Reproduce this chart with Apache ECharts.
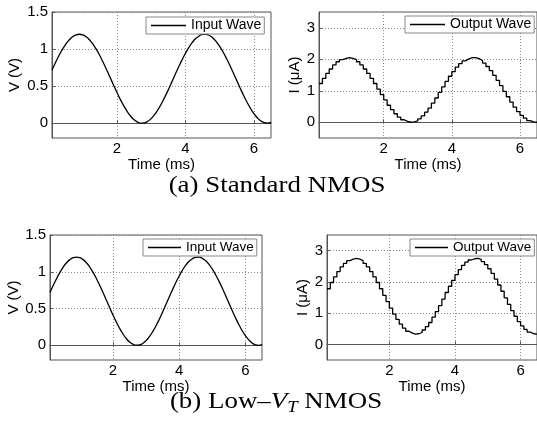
<!DOCTYPE html>
<html><head><meta charset="utf-8">
<script src="https://cdn.jsdelivr.net/npm/echarts@6/dist/echarts.min.js"></script>
<style>html,body{margin:0;padding:0;background:#fff}#c{width:537px;height:428px}</style>
</head><body><div id="c"></div>
<script>
const time = [0.1,0.2,0.3,0.4,0.5,0.6,0.7,0.8,0.9,1.0,1.1,1.2,1.3,1.4,1.5,1.6,1.7,1.8,1.9,2.0,2.1,2.2,2.3,2.4,2.5,2.6,2.7,2.8,2.9,3.0,3.1,3.2,3.3,3.4,3.5,3.6,3.7,3.8,3.9,4.0,4.1,4.2,4.3,4.4,4.5,4.6,4.7,4.8,4.9,5.0,5.1,5.2,5.3,5.4,5.5,5.6,5.7,5.8,5.9,6.0,6.1,6.2,6.3,6.4,6.5];
const inputWave = [0.718,0.816,0.909,0.992,1.064,1.122,1.165,1.191,1.2,1.191,1.165,1.122,1.064,0.992,0.909,0.816,0.718,0.615,0.513,0.413,0.318,0.232,0.157,0.093,0.046,0.015,0.001,0.004,0.025,0.063,0.117,0.185,0.265,0.355,0.452,0.554,0.657,0.758,0.854,0.943,1.023,1.090,1.142,1.177,1.197,1.199,1.183,1.150,1.101,1.037,0.960,0.873,0.778,0.677,0.574,0.472,0.374,0.283,0.200,0.130,0.073,0.031,0.007,0.000,0.011];
const outputStd = [1.23,1.39,1.55,1.69,1.82,1.92,1.99,2.03,2.05,2.03,1.99,1.92,1.82,1.69,1.55,1.39,1.23,1.05,0.88,0.71,0.54,0.40,0.27,0.16,0.08,0.03,0.00,0.01,0.04,0.11,0.20,0.32,0.45,0.61,0.77,0.95,1.12,1.30,1.46,1.61,1.75,1.86,1.95,2.01,2.05,2.05,2.02,1.96,1.88,1.77,1.64,1.49,1.33,1.16,0.98,0.81,0.64,0.48,0.34,0.22,0.13,0.05,0.01,0.00,0.02];
const outputLowVt = [1.78,1.98,2.16,2.33,2.48,2.59,2.68,2.73,2.75,2.73,2.68,2.59,2.48,2.33,2.16,1.98,1.78,1.57,1.37,1.16,0.97,0.80,0.65,0.52,0.42,0.36,0.33,0.34,0.38,0.46,0.57,0.70,0.87,1.05,1.24,1.45,1.66,1.86,2.05,2.23,2.39,2.53,2.63,2.70,2.74,2.75,2.72,2.65,2.55,2.42,2.27,2.09,1.90,1.70,1.49,1.28,1.08,0.90,0.73,0.59,0.48,0.39,0.34,0.33,0.35];
const xTicks = [2,4,6];
const vTicks = [0,0.5,1,1.5];
const iTicks = [0,1,2,3];
const captionA = '(a) Standard NMOS';

const chart = echarts.init(document.getElementById('c'), null, {renderer:'canvas'});
const sans = 'Liberation Sans, Arial, sans-serif';
const pair = arr => time.map((t,i)=>[t, arr[i]]);
const grids = [
  {left:52, top:12, width:219, height:126},
  {left:319, top:12, width:220, height:126},
  {left:50, top:235, width:212, height:125},
  {left:327, top:235, width:211, height:125}
];
const nameGaps = [16, 16, 12, 12];
const gridSpec = grids.map(g => Object.assign({show:true, borderColor:'#555', borderWidth:1, backgroundColor:'#fff'}, g));
const splitStyle = {show:true, lineStyle:{color:'#888', type:[1,2], width:1}};
const xAxes = grids.map((g,i)=>({
  type:'value', gridIndex:i, min:0.1, max:6.5,
  name:'Time (ms)', nameLocation:'middle', nameGap:nameGaps[i],
  nameTextStyle:{fontFamily:sans, fontSize:15, color:'#000'},
  axisLine:{show:true, lineStyle:{color:'#555'}},
  axisTick:{show:true, inside:true, length:3, customValues:xTicks, lineStyle:{color:'#555'}},
  axisLabel:{customValues:xTicks, fontFamily:sans, fontSize:15, color:'#000', margin:3},
  splitLine:splitStyle
}));
const yDefs = [
  {min:-0.2, max:1.5, ticks:vTicks, name:'V (V)', gap:30},
  {min:-0.5, max:3.5, ticks:iTicks, name:'I (μA)', gap:15},
  {min:-0.2, max:1.5, ticks:vTicks, name:'V (V)', gap:28},
  {min:-0.5, max:3.5, ticks:iTicks, name:'I (μA)', gap:14}
];
const yAxes = yDefs.map((d,i)=>({
  type:'value', gridIndex:i, min:d.min, max:d.max,
  name:d.name, nameLocation:'middle', nameGap:d.gap,
  nameTextStyle:{fontFamily:sans, fontSize:15, color:'#000'},
  axisLine:{show:true, lineStyle:{color:'#555'}},
  axisTick:{show:true, inside:true, length:3, customValues:d.ticks, lineStyle:{color:'#555'}},
  axisLabel:{customValues:d.ticks, fontFamily:sans, fontSize:15, color:'#000', margin:4},
  splitLine:splitStyle
}));
const lineStyle = {color:'#000', width:1.3};
const series = [
  {name:'Input Wave', type:'line', xAxisIndex:0, yAxisIndex:0, data:pair(inputWave), smooth:true, symbol:'none', lineStyle, itemStyle:{color:'#000'}},
  {name:'Output Wave', type:'line', xAxisIndex:1, yAxisIndex:1, data:pair(outputStd), step:'end', symbol:'none', lineStyle, itemStyle:{color:'#000'}},
  {name:'Input Wave', type:'line', xAxisIndex:2, yAxisIndex:2, data:pair(inputWave), smooth:true, symbol:'none', lineStyle, itemStyle:{color:'#000'}},
  {name:'Output Wave', type:'line', xAxisIndex:3, yAxisIndex:3, data:pair(outputLowVt), step:'end', symbol:'none', lineStyle, itemStyle:{color:'#000'}}
];
const legendBase = (fs, iw) => ({icon:'rect', itemWidth:iw, itemHeight:1.3, itemGap:0, padding:[1,3,1,5], borderColor:'#888', borderWidth:1, backgroundColor:'#fff', itemStyle:{color:'#000'}, textStyle:{fontFamily:sans, fontSize:fs, color:'#000', lineHeight:15}, selectedMode:false});
const legends = [
  Object.assign({left:146, top:17, data:['Input Wave']}, legendBase(14, 35)),
  Object.assign({left:405, top:16, data:['Output Wave']}, legendBase(14, 35)),
  Object.assign({left:143, top:239, data:['Input Wave']}, legendBase(13.5, 33)),
  Object.assign({left:410, top:239, data:['Output Wave']}, legendBase(13.5, 33))
];
const serif = 'Liberation Serif, Times New Roman, serif';
chart.setOption({
  animation:false,
  backgroundColor:'#fff',
  grid:gridSpec, xAxis:xAxes, yAxis:yAxes, series, legend:legends,
  graphic:[
    {type:'text', x:277, y:186, scaleX:1.17, style:{text:captionA, font:'23px '+serif, fill:'#000', align:'center', verticalAlign:'middle'}},
    {type:'text', x:276, y:402, scaleX:1.17, style:{
      text:'{a|(b) Low–}{i|V}{s|T}{a| NMOS}',
      align:'center', verticalAlign:'middle',
      rich:{
        a:{fontFamily:serif, fontSize:23, color:'#000', lineHeight:27, verticalAlign:'middle'},
        i:{fontFamily:serif, fontSize:23, fontStyle:'italic', color:'#000', lineHeight:27, verticalAlign:'middle'},
        s:{fontFamily:serif, fontSize:16, fontStyle:'italic', color:'#000', lineHeight:16, verticalAlign:'bottom'}
      }}}
  ]
});
</script></body></html>
